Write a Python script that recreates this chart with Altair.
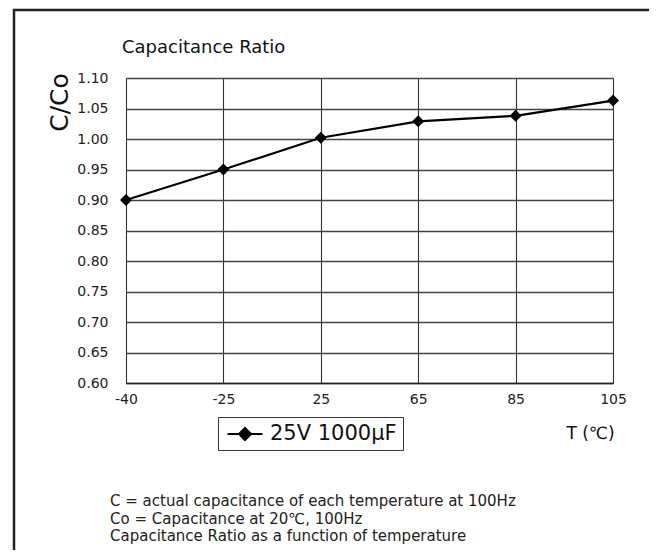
import altair as alt
import pandas as pd

temps = ["-40", "-25", "25", "65", "85", "105"]
ratios = [0.900, 0.950, 1.002, 1.029, 1.038, 1.063]
series_name = "25V 1000μF"
y_ticks = [0.60, 0.65, 0.70, 0.75, 0.80, 0.85, 0.90, 0.95, 1.00, 1.05, 1.10]
chart_title = "Capacitance Ratio"
notes = [
    "C = actual capacitance of each temperature at 100Hz",
    "Co = Capacitance at 20℃, 100Hz",
    "Capacitance Ratio as a function of temperature",
]

FONT = "DejaVu Sans"

df = pd.DataFrame({"T": temps, "ratio": ratios, "series": [series_name] * len(temps)})
one = alt.Data(values=[{"k": 1}])

x_enc = alt.X(
    "T:N",
    sort=temps,
    scale=alt.Scale(type="point", padding=0),
    axis=alt.Axis(
        title="T (℃)",
        titleX=464, titleY=50, titleAlign="center", titleBaseline="middle",
        titleFontSize=17, titleFontWeight="normal", titleFont=FONT, titleColor="#111",
        labelAngle=0, labelFontSize=14, labelFont=FONT, labelColor="#222",
        labelPadding=9, ticks=False, tickSize=0,
        grid=True, gridColor="#333", gridWidth=1.1,
        domain=True, domainColor="#222", domainWidth=1.3,
    ),
)
y_enc = alt.Y(
    "ratio:Q",
    scale=alt.Scale(domain=[0.6, 1.1], nice=False, zero=False),
    axis=alt.Axis(
        title="C/Co",
        titleAngle=270, titleX=-67, titleY=24, titleAlign="center", titleBaseline="middle",
        titleFontSize=25, titleFontWeight="normal", titleFont=FONT, titleColor="#111",
        values=y_ticks, format=".2f",
        labelFontSize=14, labelFont=FONT, labelColor="#222", labelPadding=18,
        ticks=False, tickSize=0, domain=False,
        grid=True, gridColor="#444", gridWidth=1.4,
    ),
)

frame = alt.Chart(one).mark_rect(fill="transparent", stroke="#222", strokeWidth=2.5).encode(
    x=alt.value(-112), x2=alt.value(526), y=alt.value(-68), y2=alt.value(490)
)

title_txt = alt.Chart(one).mark_text(
    align="left", baseline="middle", fontSize=18, font=FONT, color="#111"
).encode(x=alt.value(-4), y=alt.value(-30), text=alt.value(chart_title))

notes_txt = alt.Chart(one).mark_text(
    align="left", baseline="top", fontSize=15, font=FONT, color="#222", lineHeight=17.5
).encode(x=alt.value(-16), y=alt.value(416), text=alt.value(notes))

line = alt.Chart(df).mark_line(color="black", strokeWidth=2.2).encode(
    x=x_enc, y=y_enc,
    color=alt.Color(
        "series:N",
        scale=alt.Scale(range=["black"]),
        legend=alt.Legend(
            title=None, orient="none", legendX=92, legendY=339,
            strokeColor="#333", padding=6, fillColor="white",
            labelFontSize=21, labelFont=FONT, labelColor="#111", labelOffset=14,
            symbolType="M-1.75,0H1.75M0,-0.6L0.6,0L0,0.6L-0.6,0Z",
            symbolSize=400, symbolOffset=10,
            symbolFillColor="black", symbolStrokeColor="black", symbolStrokeWidth=2,
            symbolOpacity=1,
        ),
    ),
)

points = alt.Chart(df).mark_point(
    shape="diamond", filled=True, color="black", size=144, opacity=1
).encode(x=x_enc, y=y_enc)

chart = alt.layer(frame, title_txt, notes_txt, line, points).properties(
    width=487, height=305,
    autosize=alt.AutoSizeParams(type="none"),
    padding={"left": 118, "top": 70, "right": 36, "bottom": 167},
    background="white",
).configure_view(strokeWidth=0)

chart.save("out.html", embed_options={"renderer": "svg", "actions": False})
